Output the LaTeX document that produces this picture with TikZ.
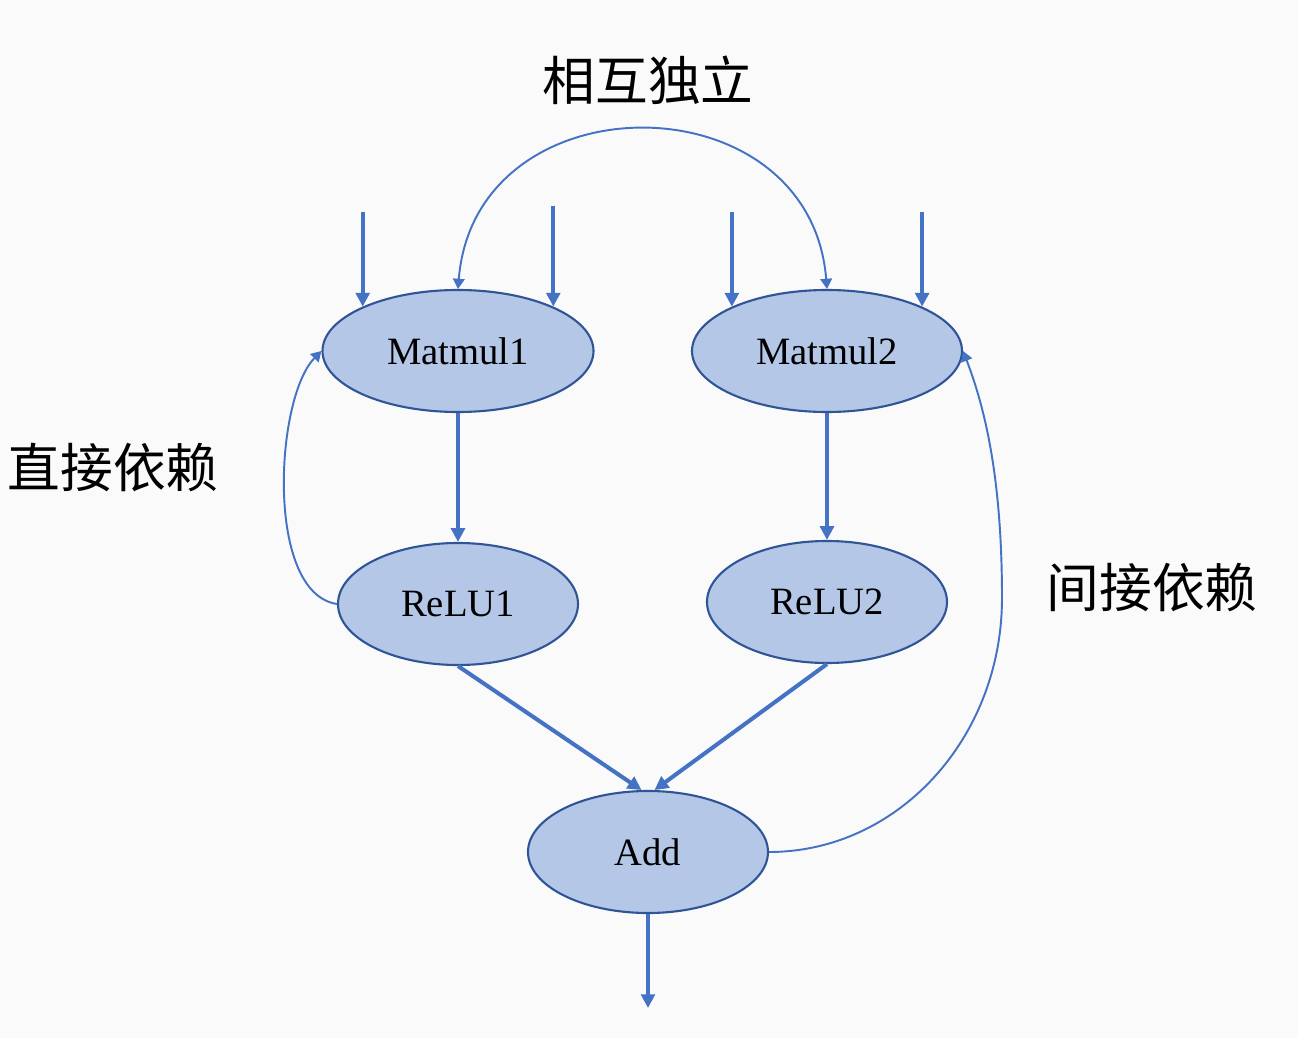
\documentclass[tikz,border=0pt]{standalone}
\usepackage{fontspec}
\setmainfont{Liberation Serif}
\newfontfamily\cjkfont{Noto Sans CJK SC}
\usepackage{xcolor}
\usepackage{tikz}
\usetikzlibrary{arrows.meta, shapes.geometric}

\definecolor{edgeblue}{RGB}{68,114,196}
\definecolor{opfill}{RGB}{180,199,231}
\definecolor{opline}{RGB}{47,85,151}
\definecolor{paper}{RGB}{250,250,250}

\begin{document}
\begin{tikzpicture}[
    op/.style={ellipse, draw=opline, line width=0.6pt, fill=opfill, inner sep=0pt,
      minimum height=1.22cm, font=\fontsize{11}{13}\selectfont},
    flow/.style={edgeblue, line width=1.15pt, -{Triangle[length=3.9pt, width=3.9pt]}},
    dep/.style={edgeblue, line width=0.55pt, -{Triangle[length=2.9pt, width=3.3pt]}},
    note/.style={font=\cjkfont\fontsize{15}{17}\selectfont}
  ]
  % Page and background
  \fill[paper] (0,0) rectangle (12.98,10.38);
  \useasboundingbox (0,0) rectangle (12.98,10.38);

  % Operator nodes
  \node[op, minimum width=2.71cm] (M1) at (4.58, 6.87) {Matmul1};
  \node[op, minimum width=2.70cm] (M2) at (8.27, 6.87) {Matmul2};
  \node[op, minimum width=2.40cm] (R1) at (4.58, 4.34) {ReLU1};
  \node[op, minimum width=2.40cm] (R2) at (8.27, 4.36) {ReLU2};
  \node[op, minimum width=2.40cm] (Add) at (6.48, 1.86) {Add};

  % Inputs of the two matmuls
  \path (M1.155) ++(0,0.95) coordinate (in1);
  \path (M1.25)  ++(0,1.01) coordinate (in2);
  \path (M2.155) ++(0,0.95) coordinate (in3);
  \path (M2.25)  ++(0,0.95) coordinate (in4);
  \draw[flow] (in1) -- (M1.155);
  \draw[flow] (in2) -- (M1.25);
  \draw[flow] (in3) -- (M2.155);
  \draw[flow] (in4) -- (M2.25);

  % Data flow between the operators
  \draw[flow] (M1.south) -- (R1.north);
  \draw[flow] (M2.south) -- (R2.north);
  \draw[flow] (R1.south) -- (Add.96);
  \draw[flow] (R2.south) -- (Add.84);
  \coordinate (out) at (6.48, 0.30);
  \draw[flow] (Add.south) -- (out);

  % Independent: the two matmuls
  \draw[dep, {Triangle[length=2.9pt, width=3.3pt]}-{Triangle[length=2.9pt, width=3.3pt]}]
    (M1.north) .. controls (4.75, 9.61) and (8.10, 9.61) .. (M2.north);
  \node[note] (indep) at (6.48, 9.58) {相互独立};

  % Direct dependency: ReLU1 on Matmul1
  \draw[dep] (R1.west) .. controls (2.65, 4.45) and (2.75, 6.40) .. (M1.west);
  \node[note] (direct) at (1.13, 5.70) {直接依赖};

  % Indirect dependency: Add on Matmul2
  \coordinate (bend) at (10.02, 4.40);
  \draw[dep] (Add.east) .. controls (8.98, 1.86) and (10.02, 3.00) .. (bend)
    .. controls (10.02, 5.60) and (9.85, 6.30) .. (M2.east);
  \node[note] (indirect) at (11.52, 4.50) {间接依赖};

\end{tikzpicture}
\end{document}
